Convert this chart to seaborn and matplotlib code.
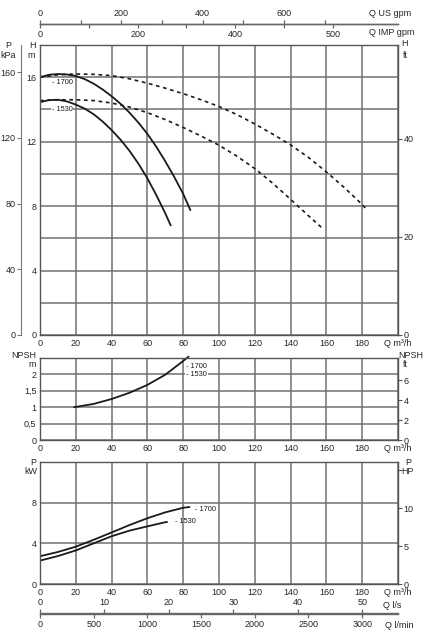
import matplotlib
matplotlib.use('Agg')
import matplotlib.pyplot as plt
import seaborn as sns

# Head curves  (Q m3/h, H m)
q_1700 = [0, 5, 10, 15, 20, 25, 30, 35, 40, 45, 50, 55, 60, 65, 70, 75, 80, 84]
h_1700 = [16.0, 16.15, 16.2, 16.17, 16.08, 15.88, 15.6, 15.24, 14.82, 14.35, 13.8, 13.18, 12.48, 11.68, 10.78, 9.81, 8.76, 7.75]
q_1530 = [0, 5, 10, 15, 20, 25, 30, 35, 40, 45, 50, 55, 60, 65, 70, 73]
h_1530 = [14.45, 14.58, 14.6, 14.5, 14.3, 14.05, 13.7, 13.25, 12.72, 12.12, 11.43, 10.63, 9.72, 8.68, 7.55, 6.8]

# dashed head curves
qd_1700 = [0, 10, 20, 30, 40, 50, 60, 70, 80, 90, 100, 110, 120, 130, 140, 150, 160, 170, 180, 182]
hd_1700 = [16.0, 16.15, 16.2, 16.18, 16.1, 15.9, 15.63, 15.32, 14.98, 14.6, 14.18, 13.68, 13.1, 12.47, 11.8, 11.02, 10.12, 9.15, 8.1, 7.85]
qd_1530 = [0, 10, 20, 30, 40, 50, 60, 70, 80, 90, 100, 110, 120, 130, 140, 150, 157.5]
hd_1530 = [14.55, 14.6, 14.6, 14.55, 14.4, 14.15, 13.8, 13.37, 12.88, 12.35, 11.78, 11.1, 10.33, 9.42, 8.42, 7.4, 6.65]

# NPSH (m)
q_npsh = [19, 30, 40, 50, 60, 70, 80, 83]
npsh = [1.0, 1.1, 1.25, 1.44, 1.68, 1.99, 2.41, 2.54]

# Power (kW)
qp_1700 = [0, 10, 20, 30, 40, 50, 60, 70, 80, 83.5]
p_1700 = [2.73, 3.15, 3.67, 4.35, 5.07, 5.8, 6.47, 7.05, 7.5, 7.57]
qp_1530 = [0, 10, 20, 30, 40, 50, 60, 70, 71]
p_1530 = [2.3, 2.75, 3.3, 4.0, 4.7, 5.25, 5.67, 6.08, 6.1]

# tick labels
q_ticks = list(range(0, 201, 20))
q_labels = [str(v) for v in range(0, 181, 20)] + ['Q m³/h']
us_ticks = list(range(0, 701, 100))
us_labels = ['0', '', '200', '', '400', '', '600', '']
imp_ticks = list(range(0, 601, 100))
imp_labels = ['0', '', '200', '', '400', '', '500']
ls_ticks = list(range(0, 51, 10))
lmin_ticks = list(range(0, 3001, 500))

W, H = 431, 639
sns.set_style('white')
plt.rcParams['font.family'] = ['Liberation Sans', 'DejaVu Sans']
plt.rcParams['font.size'] = 6.5

fig = plt.figure(figsize=(W / 100, H / 100), dpi=100)


def rect(l, t, r, b):
    return [l / W, 1 - b / H, (r - l) / W, max(b - t, 0.01) / H]


def ftext(x, y, s, ha='center', **kw):
    fig.text(x / W, 1 - y / H, s, ha=ha, va='center', fontsize=6.5, **kw)


LINE = '#1a1a1a'
GRID = '#707070'
SPINE = '#555555'


def style_panel(ax, yticks, ylabels, ymax):
    ax.set_xlim(0, 200)
    ax.set_ylim(0, ymax)
    ax.set_xticks(q_ticks)
    ax.set_xticklabels(q_labels)
    ax.set_yticks(yticks)
    ax.set_yticklabels(ylabels)
    ax.grid(True, color=GRID, lw=1.1)
    ax.tick_params(axis='y', length=0, pad=2.5, labelsize=6.5)
    ax.tick_params(axis='x', length=0, pad=3.2, labelsize=6.5)
    for s in ax.spines.values():
        s.set_color(SPINE)
        s.set_linewidth(1.0)
    ax.set_xlabel('')
    ax.set_ylabel('')


def right_axis(ax, ymax, ticks, labels):
    r = ax.twinx()
    r.set_ylim(0, ymax)
    r.set_yticks(ticks)
    r.set_yticklabels(labels)
    r.grid(False)
    r.tick_params(axis='y', length=3, width=0.8, color=SPINE, pad=1, labelsize=6.5)
    for s in r.spines.values():
        s.set_visible(False)
    return r


# ---- head panel
ax_h = fig.add_axes(rect(40, 45, 398, 335))
sns.lineplot(x=q_1700, y=h_1700, ax=ax_h, color=LINE, lw=1.3)
sns.lineplot(x=q_1530, y=h_1530, ax=ax_h, color=LINE, lw=1.3)
sns.lineplot(x=qd_1700, y=hd_1700, ax=ax_h, color=LINE, lw=1.2, linestyle=(0, (2.2, 2.2)))
sns.lineplot(x=qd_1530, y=hd_1530, ax=ax_h, color=LINE, lw=1.2, linestyle=(0, (2.2, 2.2)))
style_panel(ax_h, list(range(0, 19, 2)),
            ['0', '', '4', '', '8', '', '12', '', '16', ''], 18)
ax_h.text(6.5, 15.66, '- 1700', fontsize=5.3, va='center', color=LINE)
ax_h.text(6.5, 14.0, '- 1530', fontsize=5.3, va='center', color=LINE,
          bbox=dict(fc='white', ec='none', pad=0.6))

right_axis(ax_h, 18 * 3.28084, [0, 20, 40], ['0', '20', '40'])

# kPa axis on the far left
ax_k = ax_h.twinx()
ax_k.set_ylim(0, 18 * 9.80665)
ax_k.spines['left'].set_position(('axes', -19 / 358))
ax_k.spines['left'].set_visible(True)
ax_k.spines['left'].set_color('#777777')
for s in ['right', 'top', 'bottom']:
    ax_k.spines[s].set_visible(False)
ax_k.yaxis.set_ticks_position('left')
ax_k.yaxis.set_label_position('left')
ax_k.set_yticks([0, 40, 80, 120, 160])
ax_k.tick_params(axis='y', length=3, width=0.8, color='#777777', pad=1, labelsize=6.5)
ax_k.grid(False)

# ---- NPSH panel
ax_n = fig.add_axes(rect(40, 358, 398, 440))
sns.lineplot(x=q_npsh, y=npsh, ax=ax_n, color=LINE, lw=1.3, clip_on=False)
style_panel(ax_n, [0, 0.5, 1, 1.5, 2, 2.5], ['0', '0,5', '1', '1,5', '2', ''], 2.5)
ax_n.text(81.6, 2.23, '- 1700', fontsize=5.3, va='center', color=LINE)
ax_n.text(81.6, 2.0, '- 1530', fontsize=5.3, va='center', color=LINE,
          bbox=dict(fc='white', ec='none', pad=0.6))
right_axis(ax_n, 2.5 * 3.28084, [0, 2, 4, 6], ['0', '2', '4', '6'])

# ---- power panel
ax_p = fig.add_axes(rect(40, 462, 398, 584))
sns.lineplot(x=qp_1700, y=p_1700, ax=ax_p, color=LINE, lw=1.3)
sns.lineplot(x=qp_1530, y=p_1530, ax=ax_p, color=LINE, lw=1.3)
style_panel(ax_p, [0, 4, 8, 12], ['0', '4', '8', ''], 12)
ax_p.text(86.5, 7.32, '- 1700', fontsize=5.3, va='center', color=LINE)
ax_p.text(75.3, 6.1, '- 1530', fontsize=5.3, va='center', color=LINE)
right_axis(ax_p, 12 / 0.7457, [0, 5, 10, 15], ['0', '5', '10', ''])


# ---- extra flow scales (top: gpm, bottom: l/s and l/min)
def flow_axis(y, factor, ticks, labels, side):
    a = fig.add_axes(rect(40, y, 398, y))
    a.set_xlim(0, 200 * factor)
    a.set_yticks([])
    a.set_facecolor('none')
    for s in a.spines.values():
        s.set_visible(False)
    a.spines[side].set_visible(True)
    a.spines[side].set_color('#666666')
    a.spines[side].set_linewidth(1.0)
    a.set_xticks(ticks)
    a.set_xticklabels(labels)
    a.xaxis.set_ticks_position(side)
    a.tick_params(axis='x', length=3, width=0.9, color='#666666', pad=1.5, labelsize=6.5)
    if side == 'top':
        a.tick_params(axis='x', labeltop=True, labelbottom=False)
    return a


flow_axis(24, 4.40287, us_ticks, us_labels, 'top')
flow_axis(24, 3.66615, imp_ticks, imp_labels, 'bottom')
flow_axis(613.5, 1 / 3.6, ls_ticks, [str(v) for v in ls_ticks], 'top')
flow_axis(613.5, 1000 / 60, lmin_ticks, [str(v) for v in lmin_ticks], 'bottom')

# unit labels
ftext(369, 13.5, 'Q US gpm', ha='left')
ftext(369, 32.5, 'Q IMP gpm', ha='left')
ftext(383, 605.5, 'Q l/s', ha='left')
ftext(385, 626, 'Q l/min', ha='left')

ftext(8.5, 45, 'P')
ftext(8.5, 55, 'kPa')
ftext(32.5, 45, 'H')
ftext(31.5, 56, 'm')
ftext(405, 43, 'H')
ftext(405.5, 55, 'ft')

ftext(24, 355, 'NPSH')
ftext(32.5, 364.5, 'm')
ftext(411, 355, 'NPSH')
ftext(405.5, 364.5, 'ft')

ftext(33, 462.5, 'P')
ftext(31, 471, 'kW')
ftext(408, 462.5, 'P')
ftext(408, 471, 'HP')

fig.savefig('out.png', dpi=100)
